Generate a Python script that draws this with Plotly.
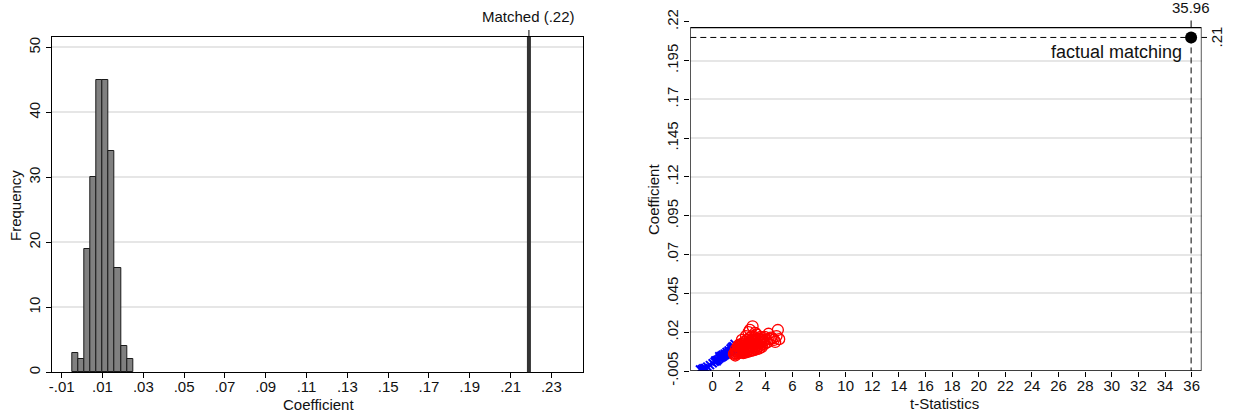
import plotly.graph_objects as go

# ---------------- data ----------------
bin_left_edges = [-0.005, -0.002, 0.001, 0.004, 0.007, 0.010, 0.013, 0.016, 0.019, 0.022]
bin_width = 0.003
bin_counts = [3, 2, 19, 30, 45, 45, 34, 16, 4, 2]
matched_coef = 0.219
matched_label = "Matched (.22)"

left_xticks = [-0.01, 0.01, 0.03, 0.05, 0.07, 0.09, 0.11, 0.13, 0.15, 0.17, 0.19, 0.21, 0.23]
left_xticklabels = ["-.01", ".01", ".03", ".05", ".07", ".09", ".11", ".13", ".15", ".17", ".19", ".21", ".23"]
left_yticks = [0, 10, 20, 30, 40, 50]

blue_t = [-0.95, -0.8, -0.7, -0.55, -0.4, -0.2, 0.0, 0.15, 0.3, 0.4, 0.5, 0.6, 0.7, 0.8,
          0.9, 1.0, 1.1, 1.2, 1.3, 1.4, 1.5, 1.6, 0.5, 0.9, 1.2, 1.45, 0.3, 0.65,
          -0.85, -0.6, 0.2, 0.75, 1.05, 1.35, 1.55, 1.65]
blue_coef = [-0.0040, -0.0038, -0.0032, -0.0030, -0.0022, -0.0012, 0.0000, 0.0010, 0.0020,
             0.0022, 0.0030, 0.0035, 0.0040, 0.0045, 0.0052, 0.0058, 0.0062, 0.0070, 0.0075,
             0.0080, 0.0088, 0.0095, 0.0045, 0.0062, 0.0082, 0.0105, 0.0012, 0.0048,
             -0.0045, -0.0042, 0.0018, 0.0055, 0.0072, 0.0095, 0.0110, 0.0125]

red_t = [1.7, 1.8, 1.9, 2.0, 2.0, 2.1, 2.1, 2.2, 2.2, 2.3, 2.3, 2.4, 2.4, 2.4, 2.5, 2.5, 2.6,
         2.6, 2.6, 2.7, 2.7, 2.8, 2.8, 2.8, 2.9, 2.9, 3.0, 3.0, 3.0, 3.1, 3.1, 3.2, 3.2, 3.3,
         3.3, 3.4, 3.4, 3.5, 3.5, 3.6, 3.7, 3.7, 3.8, 3.9, 4.0, 4.1, 4.3, 4.5, 4.8, 4.7, 5.0,
         4.9, 2.8, 3.0, 3.3, 2.5, 2.2, 1.9, 2.0, 3.6, 4.2, 3.9, 3.2, 2.7,
         1.6, 1.7, 1.8, 1.9, 2.1, 2.3, 2.5, 2.7, 2.9, 3.1, 3.3, 3.5, 3.7, 2.0, 2.4, 2.8,
         3.2, 3.6, 1.75, 2.15, 2.55, 2.95, 3.35, 3.75, 4.4, 4.6]
red_coef = [0.0065, 0.0075, 0.0085, 0.0070, 0.0095, 0.0080, 0.0110, 0.0090, 0.0125, 0.0075,
            0.0100, 0.0085, 0.0115, 0.0140, 0.0095, 0.0120, 0.0080, 0.0105, 0.0150, 0.0090,
            0.0130, 0.0100, 0.0115, 0.0165, 0.0085, 0.0125, 0.0105, 0.0140, 0.0175, 0.0095,
            0.0120, 0.0110, 0.0150, 0.0130, 0.0100, 0.0120, 0.0160, 0.0140, 0.0110, 0.0130,
            0.0150, 0.0120, 0.0140, 0.0125, 0.0150, 0.0135, 0.0155, 0.0160, 0.0175, 0.0137,
            0.0155, 0.0214, 0.0215, 0.0238, 0.0185, 0.0175, 0.0150, 0.0110, 0.0120, 0.0170,
            0.0190, 0.0170, 0.0195, 0.0200,
            0.0060, 0.0050, 0.0060, 0.0065, 0.0070, 0.0065, 0.0070, 0.0075, 0.0080, 0.0085,
            0.0090, 0.0095, 0.0105, 0.0105, 0.0130, 0.0140, 0.0165, 0.0155, 0.0090, 0.0100,
            0.0110, 0.0150, 0.0145, 0.0165, 0.0165, 0.0150]

factual_t = 35.96
factual_coef = 0.2099
factual_t_label = "35.96"
factual_coef_label = ".21"

right_xticks = list(range(0, 37, 2))
right_xticklabels = [str(v) for v in right_xticks]
right_yticks = [-0.005, 0.02, 0.045, 0.07, 0.095, 0.12, 0.145, 0.17, 0.195, 0.22]
right_yticklabels = ["-.005", ".02", ".045", ".07", ".095", ".12", ".145", ".17", ".195", ".22"]

# ---------------- layout geometry ----------------
W, H = 1233, 417
FONT = "Liberation Sans, Arial, sans-serif"
GRID = "#e6e6e6"

def px(x):
    return x / W

def py(y):
    return 1 - y / H

left_xrange = [-0.0146, 0.2455]
left_yrange = [0, 51.6]
right_xrange = [-1.68, 36.74]
right_yrange = [-0.005, 0.2203]
right_frame_top = 0.2162

fig = go.Figure()

bin_centers = [e + bin_width / 2 for e in bin_left_edges]
fig.add_trace(go.Bar(
    x=bin_centers, y=bin_counts, width=bin_width,
    marker=dict(color="#808080", line=dict(color="#1a1a1a", width=1)),
    xaxis="x", yaxis="y", showlegend=False,
))

fig.add_trace(go.Scatter(
    x=blue_t, y=blue_coef, mode="markers",
    marker=dict(symbol="x-thin", size=8, line=dict(color="#0000ff", width=2), color="#0000ff"),
    xaxis="x2", yaxis="y2", showlegend=False,
))
fig.add_trace(go.Scatter(
    x=red_t, y=red_coef, mode="markers",
    marker=dict(symbol="circle-open", size=11, color="#ff0000", line=dict(color="#ff0000", width=1.3)),
    xaxis="x2", yaxis="y2", showlegend=False,
))
fig.add_trace(go.Scatter(
    x=[right_xrange[0], factual_t], y=[factual_coef, factual_coef], mode="lines",
    line=dict(color="black", width=1, dash="6px,4px"),
    xaxis="x2", yaxis="y2", showlegend=False, hoverinfo="skip",
))
fig.add_trace(go.Scatter(
    x=[factual_t, factual_t], y=[factual_coef, right_yrange[0]], mode="lines",
    line=dict(color="black", width=1, dash="6px,4px"),
    xaxis="x2", yaxis="y2", showlegend=False, hoverinfo="skip",
))
fig.add_trace(go.Scatter(
    x=[factual_t], y=[factual_coef], mode="markers",
    marker=dict(symbol="circle", size=12, color="black"),
    xaxis="x2", yaxis="y2", showlegend=False,
))

axis_common = dict(
    zeroline=False, ticks="outside", ticklen=5, tickcolor="black",
    tickfont=dict(family=FONT, size=15, color="#111"), automargin=False,
)

fig.update_layout(
    width=W, height=H,
    margin=dict(l=0, r=0, t=0, b=0),
    paper_bgcolor="white", plot_bgcolor="white",
    bargap=0,
    xaxis=dict(domain=[px(52.3), px(583)], range=left_xrange, anchor="y",
               tickvals=left_xticks, ticktext=left_xticklabels, showgrid=False,
               ticklabelstandoff=-4,
               showline=True, linecolor="black", linewidth=1, mirror=True, **axis_common),
    yaxis=dict(domain=[py(372.3), py(37)], range=left_yrange, anchor="x",
               tickvals=left_yticks, tickangle=-90, showgrid=True, gridcolor=GRID, gridwidth=1.5,
               showline=True, linecolor="black", linewidth=1, mirror=True, **axis_common),
    xaxis2=dict(domain=[px(690.3), px(1201.5)], range=right_xrange, anchor="y2",
                tickvals=right_xticks, ticktext=right_xticklabels, showgrid=False,
                ticklabelstandoff=-4,
                showline=False, **axis_common),
    yaxis2=dict(domain=[py(371), py(21.3)], range=right_yrange, anchor="x2",
                tickvals=right_yticks, ticktext=right_yticklabels, tickangle=-90,
                showgrid=True, gridcolor=GRID, gridwidth=1.5, showline=False, **axis_common),
)

shapes = []
shapes.append(dict(type="line", xref="x", yref="y domain", x0=matched_coef, x1=matched_coef,
                   y0=0, y1=1, line=dict(color="#333333", width=4), layer="above"))
shapes.append(dict(type="line", xref="x", yref="paper", x0=matched_coef, x1=matched_coef,
                   y0=py(37), y1=py(30), line=dict(color="black", width=1)))
shapes.append(dict(type="rect", xref="x2", yref="y2", x0=right_xrange[0], x1=right_xrange[1],
                   y0=right_yrange[0], y1=right_frame_top, line=dict(color="black", width=1.3),
                   fillcolor="rgba(0,0,0,0)", layer="above"))
shapes.append(dict(type="line", xref="x2", yref="paper", x0=factual_t, x1=factual_t,
                   y0=py(27.5), y1=py(20.5), line=dict(color="black", width=1)))
shapes.append(dict(type="line", xref="paper", yref="y2", x0=px(1201.5), x1=px(1207),
                   y0=factual_coef, y1=factual_coef, line=dict(color="black", width=1)))
fig.update_layout(shapes=shapes)

tfont = dict(family=FONT, size=15, color="#111")
annotations = [
    dict(text=matched_label, x=matched_coef, xref="x", y=py(17), yref="paper",
         showarrow=False, font=tfont, xanchor="center", yanchor="middle"),
    dict(text="Coefficient", x=px(318), xref="paper", y=py(404), yref="paper",
         showarrow=False, font=tfont, xanchor="center", yanchor="middle"),
    dict(text="Frequency", x=px(15), xref="paper", y=py(206), yref="paper",
         showarrow=False, font=tfont, textangle=-90, xanchor="center", yanchor="middle"),
    dict(text="t-Statistics", x=px(945), xref="paper", y=py(403), yref="paper",
         showarrow=False, font=tfont, xanchor="center", yanchor="middle"),
    dict(text="Coefficient", x=px(653), xref="paper", y=py(200), yref="paper",
         showarrow=False, font=tfont, textangle=-90, xanchor="center", yanchor="middle"),
    dict(text=factual_t_label, x=factual_t, xref="x2", y=py(8), yref="paper",
         showarrow=False, font=tfont, xanchor="center", yanchor="middle"),
    dict(text=factual_coef_label, x=px(1216), xref="paper", y=factual_coef, yref="y2",
         showarrow=False, font=tfont, textangle=-90, xanchor="center", yanchor="middle"),
    dict(text="factual matching", x=px(1184), xref="paper", y=py(52), yref="paper",
         showarrow=False, font=dict(family=FONT, size=18, color="#111"),
         xanchor="right", yanchor="middle"),
]
fig.update_layout(annotations=annotations)

fig.write_html("out.html")
